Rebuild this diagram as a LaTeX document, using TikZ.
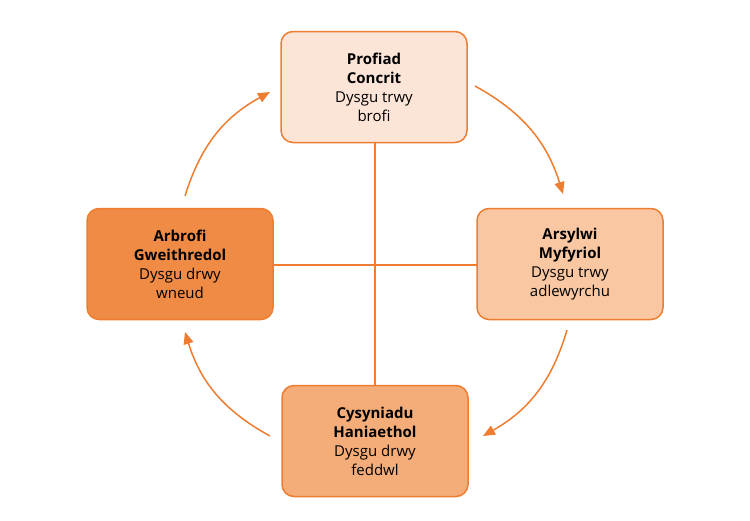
\documentclass[tikz,border=0pt]{standalone}
\usepackage{fontspec}
\setmainfont{Open Sans}
\usetikzlibrary{arrows.meta}
\definecolor{orn}{HTML}{EE7D31}
\definecolor{f1}{HTML}{FCE4D6}
\definecolor{f2}{HTML}{F9C8A2}
\definecolor{f3}{HTML}{F4AD78}
\definecolor{f4}{HTML}{F08B45}
\begin{document}
\begin{tikzpicture}[x=1pt,y=-1pt,
 box/.style={draw=orn,line width=1.5pt,rounded corners=12pt,minimum width=186pt,minimum height=111pt,align=center,font=\fontsize{15}{19}\selectfont,text=black},
 arr/.style={orn,line width=1.5pt,-{Triangle[length=12pt,width=10pt]}}]
\useasboundingbox (0,0) rectangle (750,520);
\coordinate (vt) at (375,142); \coordinate (vb) at (375,386);
\coordinate (hl) at (273,265); \coordinate (hr) at (477,265);
\draw[orn,line width=1.5pt] (vt)--(vb) (hl)--(hr);
\node[box,fill=f1] (t) at (374,87) {\textbf{Profiad}\\\textbf{Concrit}\\Dysgu trwy\\brofi};
\node[box,fill=f2] (r) at (570,264) {\textbf{Arsylwi}\\\textbf{Myfyriol}\\Dysgu trwy\\adlewyrchu};
\node[box,fill=f3] (b) at (375,441) {\textbf{Cysyniadu}\\\textbf{Haniaethol}\\Dysgu drwy\\feddwl};
\node[box,fill=f4] (l) at (180,264) {\textbf{Arbrofi}\\\textbf{Gweithredol}\\Dysgu drwy\\wneud};
\coordinate (a1) at (475,86); \coordinate (a2) at (563,194);
\coordinate (b1) at (567,330); \coordinate (b2) at (483,436);
\coordinate (c1) at (270,436); \coordinate (c2) at (185,332);
\coordinate (d1) at (185,196); \coordinate (d2) at (270,92);
\draw[arr] (a1) to[bend left=22] (a2);
\draw[arr] (b1) to[bend left=22] (b2);
\draw[arr] (c1) to[bend left=22] (c2);
\draw[arr] (d1) to[bend left=22] (d2);
\end{tikzpicture}
\end{document}
